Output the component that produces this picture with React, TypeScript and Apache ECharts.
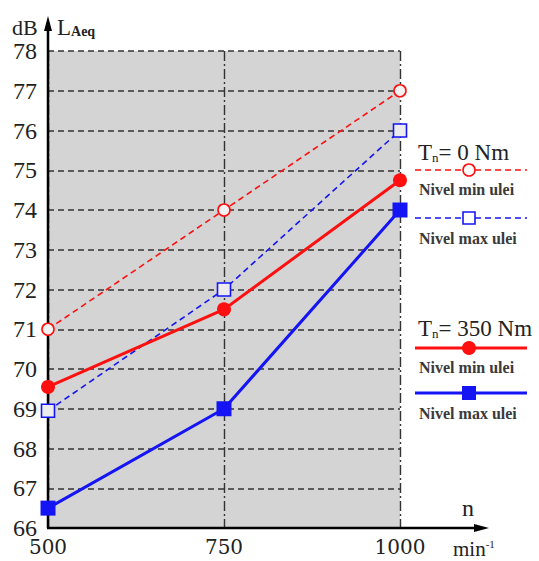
import React, { useEffect, useRef } from "react";
import * as echarts from "echarts";

const speeds = [500, 750, 1000];
const t0Min = [71, 74, 77];
const t0Max = [68.95, 72, 76];
const t350Min = [69.55, 71.5, 74.75];
const t350Max = [66.5, 69, 74];
const yTicks = [66, 78];

const RED = "#ff1010";
const BLUE = "#1414f5";
const FONT = "Liberation Serif";
const FONT2 = "DejaVu Serif";
const FONT3 = "serif";

export default function App() {
  const ref = useRef<HTMLDivElement>(null);
  useEffect(() => {
    if (!ref.current) return;
    const chart = echarts.init(ref.current, null, { renderer: "svg" });
    const pair = (arr: number[]) => speeds.map((s, i) => [s, arr[i]]);
    const legendLine = (y: number, color: string, dashed: boolean, symbol: any) => [
      {
        type: "line",
        z: 10,
        shape: { x1: 415, y1: y, x2: 527, y2: y },
        style: { stroke: color, lineWidth: dashed ? 1.6 : 3, lineDash: dashed ? [6, 4] : null },
      },
      symbol,
    ];
    const subTitle = (x: number, y: number, rest: string) => ({
      type: "text",
      z: 10,
      x,
      y,
      style: {
        text: "{a|T}{s|n}{a|" + rest + "}",
        font: "22px serif",
        rich: {
          a: { fontFamily: FONT3, fontSize: 23, fill: "#222", verticalAlign: "bottom" },
          s: { fontFamily: FONT3, fontSize: 13, fill: "#222", verticalAlign: "bottom" },
        },
        verticalAlign: "middle",
      },
    });
    const label = (x: number, y: number, t: string) => ({
      type: "text",
      z: 10,
      x,
      y,
      style: { text: t, font: "bold 16px serif", fill: "#3a3a3a", verticalAlign: "middle" },
    });
    chart.setOption({
      animation: false,
      textStyle: { fontFamily: FONT },
      grid: {
        left: 48,
        right: 139,
        top: 51,
        bottom: 33,
        show: true,
        backgroundColor: "#d4d4d4",
        borderWidth: 0,
      },
      xAxis: {
        type: "value",
        min: 500,
        max: 1000,
        interval: 250,
        axisLine: { show: false },
        axisTick: { show: false },
        axisLabel: { fontFamily: FONT2, fontSize: 20, color: "#222", margin: 9, formatter: (v: number) => String(v) },
        splitLine: { show: true, lineStyle: { color: "#333", width: 1.4, type: [10, 3, 2, 3] } },
      },
      yAxis: {
        type: "value",
        min: yTicks[0],
        max: yTicks[1],
        interval: 1,
        axisLine: { show: false },
        axisTick: { show: false },
        axisLabel: { fontFamily: FONT, fontSize: 24, color: "#222", margin: 11 },
        splitLine: { show: true, lineStyle: { color: "#333", width: 1.5, type: [6, 4] } },
      },
      series: [
        {
          name: "Tn=0 min",
          type: "line",
          data: pair(t0Min),
          lineStyle: { color: RED, width: 1.6, type: [6, 4] },
          itemStyle: { color: "#f2f2f2", borderColor: RED, borderWidth: 1.6 },
          symbol: "circle",
          symbolSize: 12,
          z: 3,
        },
        {
          name: "Tn=0 max",
          type: "line",
          data: pair(t0Max),
          lineStyle: { color: BLUE, width: 1.6, type: [6, 4] },
          itemStyle: { color: "#ececec", borderColor: BLUE, borderWidth: 1.6 },
          symbol: "rect",
          symbolSize: 13,
          z: 3,
        },
        {
          name: "Tn=350 min",
          type: "line",
          data: pair(t350Min),
          lineStyle: { color: RED, width: 3 },
          itemStyle: { color: RED },
          symbol: "circle",
          symbolSize: 14,
          z: 4,
        },
        {
          name: "Tn=350 max",
          type: "line",
          data: pair(t350Max),
          lineStyle: { color: BLUE, width: 3 },
          itemStyle: { color: BLUE },
          symbol: "rect",
          symbolSize: 15,
          z: 4,
        },
      ],
      graphic: [
        { type: "line", z: 1, shape: { x1: 48, y1: 528, x2: 48, y2: 28 }, style: { stroke: "#000", lineWidth: 2.5 } },
        { type: "polygon", z: 1, shape: { points: [[48, 16], [44, 31], [52, 31]] }, style: { fill: "#000" } },
        { type: "line", z: 1, shape: { x1: 47, y1: 528, x2: 476, y2: 528 }, style: { stroke: "#000", lineWidth: 2.5 } },
        { type: "polygon", z: 1, shape: { points: [[489, 528], [474, 524], [474, 532]] }, style: { fill: "#000" } },
        {
          type: "text",
          x: 12,
          y: 27,
          style: { text: "dB", font: "22px 'Liberation Serif'", fill: "#222", verticalAlign: "middle" },
        },
        {
          type: "text",
          x: 57,
          y: 27,
          style: {
            text: "{a|L}{s|Aeq}",
            verticalAlign: "middle",
            rich: {
              a: { fontFamily: FONT, fontSize: 23, fill: "#222", verticalAlign: "bottom" },
              s: { fontFamily: FONT, fontSize: 14, fill: "#222", verticalAlign: "bottom", fontWeight: "bold" },
            },
          },
        },
        {
          type: "text",
          x: 462,
          y: 508,
          style: { text: "n", font: "24px serif", fill: "#222", verticalAlign: "middle" },
        },
        {
          type: "text",
          x: 453,
          y: 549,
          style: {
            text: "{a|min}{s|-1}",
            verticalAlign: "middle",
            rich: {
              a: { fontFamily: FONT, fontSize: 21, fill: "#222", verticalAlign: "bottom" },
              s: { fontFamily: FONT, fontSize: 11, fill: "#222", verticalAlign: "top" },
            },
          },
        },
        subTitle(418, 152, "= 0 Nm"),
        ...legendLine(170, RED, true, {
          type: "circle",
          z: 11,
          shape: { cx: 469, cy: 170, r: 6 },
          style: { fill: "#fff", stroke: RED, lineWidth: 1.6 },
        }),
        label(419, 189, "Nivel min ulei"),
        ...legendLine(218, BLUE, true, {
          type: "rect",
          z: 11,
          shape: { x: 463, y: 212, width: 12, height: 12 },
          style: { fill: "#fff", stroke: BLUE, lineWidth: 1.6 },
        }),
        label(419, 238, "Nivel max ulei"),
        subTitle(418, 328, "= 350 Nm"),
        ...legendLine(348, RED, false, {
          type: "circle",
          z: 11,
          shape: { cx: 469, cy: 348, r: 7 },
          style: { fill: RED },
        }),
        label(419, 367, "Nivel min ulei"),
        ...legendLine(393, BLUE, false, {
          type: "rect",
          z: 11,
          shape: { x: 462, y: 386, width: 14, height: 14 },
          style: { fill: BLUE },
        }),
        label(419, 413, "Nivel max ulei"),
      ],
    });
    return () => chart.dispose();
  }, []);
  return <div ref={ref} style={{ width: 539, height: 561, position: "absolute", left: 0, top: 0, background: "#fff" }} />;
}
